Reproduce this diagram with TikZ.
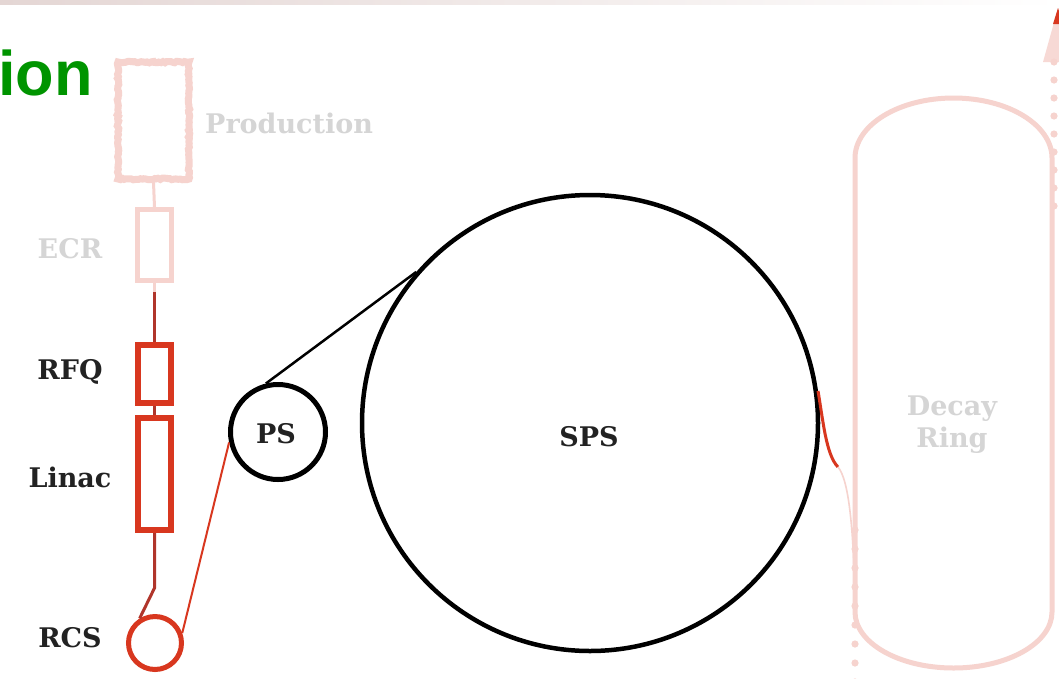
\documentclass[tikz,border=0pt]{standalone}
\usepackage{fontspec}
\setmainfont{DejaVu Serif}
\newfontfamily\headfont{Liberation Sans}
\usetikzlibrary{decorations.pathmorphing}

\definecolor{beamred}{HTML}{D8371F}
\definecolor{linered}{HTML}{B0352B}
\definecolor{fadepink}{HTML}{F6D3CE}
\definecolor{fadegrey}{HTML}{D5D5D5}
\definecolor{labelblack}{HTML}{222222}
\definecolor{headgreen}{HTML}{009400}
\definecolor{bandrose}{HTML}{E4D6D4}

\tikzset{
  lbl/.style={font=\fontsize{27}{31}\selectfont\bfseries, text=labelblack,
              inner sep=0pt, anchor=base},
  faintlbl/.style={lbl, text=fadegrey},
  elem/.style={rectangle, draw=beamred, line width=6pt, inner sep=0pt,
               minimum width=33pt},
  faintelem/.style={rectangle, draw=fadepink, line width=5pt, inner sep=0pt,
                    minimum width=34pt},
  rcsring/.style={circle, draw=beamred, line width=5pt, inner sep=0pt},
  bigring/.style={circle, draw=black, line width=5pt, inner sep=0pt},
  transfer/.style={draw=linered, line width=3pt},
  fainttransfer/.style={draw=fadepink, line width=3pt},
  dotmark/.style={fill=fadepink},
}

\begin{document}
\begin{tikzpicture}[x=1pt,y=-1pt]
  \useasboundingbox (0,0) rectangle (1059,678);
  \clip (0,0) rectangle (1059,678);
  \fill[white] (0,0) rectangle (1059,678);

  % header band and heading fragment
  \shade[left color=bandrose, right color=white] (0,0) rectangle (1059,4.5);
  \node[font=\headfont\bfseries\fontsize{63}{70}\selectfont, text=headgreen,
        inner sep=0pt, anchor=base west] (head) at (-2,95) {ion};

  % source chain
  \node[rectangle, draw=fadepink, line width=7pt, inner sep=0pt,
        minimum width=71pt, minimum height=117pt,
        decorate, decoration={random steps, segment length=2pt, amplitude=0.8pt}]
        (prod) at (153.5,120.5) {};
  \node[faintelem, minimum height=71pt] (ecr) at (154.5,245) {};
  \node[elem, minimum height=58pt] (rfq) at (154.5,374) {};
  \node[elem, minimum height=112pt] (linac) at (154.5,474) {};
  \node[rcsring, minimum size=53pt] (rcs) at (155,643) {};

  \node[faintlbl, anchor=base west] (prodlbl) at (205,133) {Production};
  \node[faintlbl] (ecrlbl) at (70,258) {ECR};
  \node[lbl] (rfqlbl) at (70,379) {RFQ};
  \node[lbl] (linaclbl) at (70,487) {Linac};
  \node[lbl] (rcslbl) at (70,647) {RCS};

  \coordinate (ecrjoin) at (154.5,292);
  \coordinate (linacbend) at (154.5,588);
  \draw[fainttransfer] (prod.south) -- (ecr.north);
  \draw[fainttransfer] (ecr.south) -- (ecrjoin);
  \draw[transfer] (ecrjoin) -- (rfq.north);
  \draw[transfer] (rfq.south) -- (linac.north);
  \draw[transfer] (linac.south) -- (linacbend) -- (rcs.122);

  % synchrotrons
  \node[bigring, minimum size=95pt] (ps) at (278,432) {};
  \node[bigring, line width=4.5pt, minimum size=456pt] (sps) at (590,423) {};
  \node[lbl] (pslbl) at (276,443) {PS};
  \node[lbl] (spslbl) at (589,446) {SPS};

  \draw[draw=beamred, line width=2pt] (rcs.20) -- (ps.192);
  \draw[draw=black, line width=2.5pt] (ps.104) -- (sps.139);

  % decay ring
  \coordinate (ringjoin) at (855,612);
  \coordinate (extract) at (838,467);
  \draw[fadepink, line width=5pt] (855,158)
      arc[start angle=180, end angle=0, x radius=98.5pt, y radius=60pt]
      -- (1052,612)
      arc[start angle=0, end angle=-180, x radius=98.5pt, y radius=56pt]
      -- cycle;
  \node[faintlbl, align=center, anchor=base] (decaylbl) at (952,447)
      {Decay\\[1pt]Ring};

  \draw[draw=beamred, line width=3pt] (sps.8)
      .. controls (823,420) and (826,455) .. (extract);
  \draw[draw=fadepink, line width=1.6pt] (extract)
      .. controls (849,480) and (854,530) .. (ringjoin);

  % straight-section beam dots
  \foreach \yy in {62,80,98,116,134,152,170,188,206}
    \fill[dotmark] (1054,\yy) circle[radius=3.6pt];
  \foreach \yy in {530,549,568,587,606,625,644,663,682}
    \fill[dotmark] (855,\yy) circle[radius=3.6pt];

  % outgoing beam arrow
  \coordinate (tip) at (1058,8);
  \fill[fadepink, opacity=0.85] (tip) -- (1043,62) -- (1073,62) -- cycle;
  \fill[beamred] (tip) -- (1053,24) -- (1063,24) -- cycle;
\end{tikzpicture}
\end{document}
